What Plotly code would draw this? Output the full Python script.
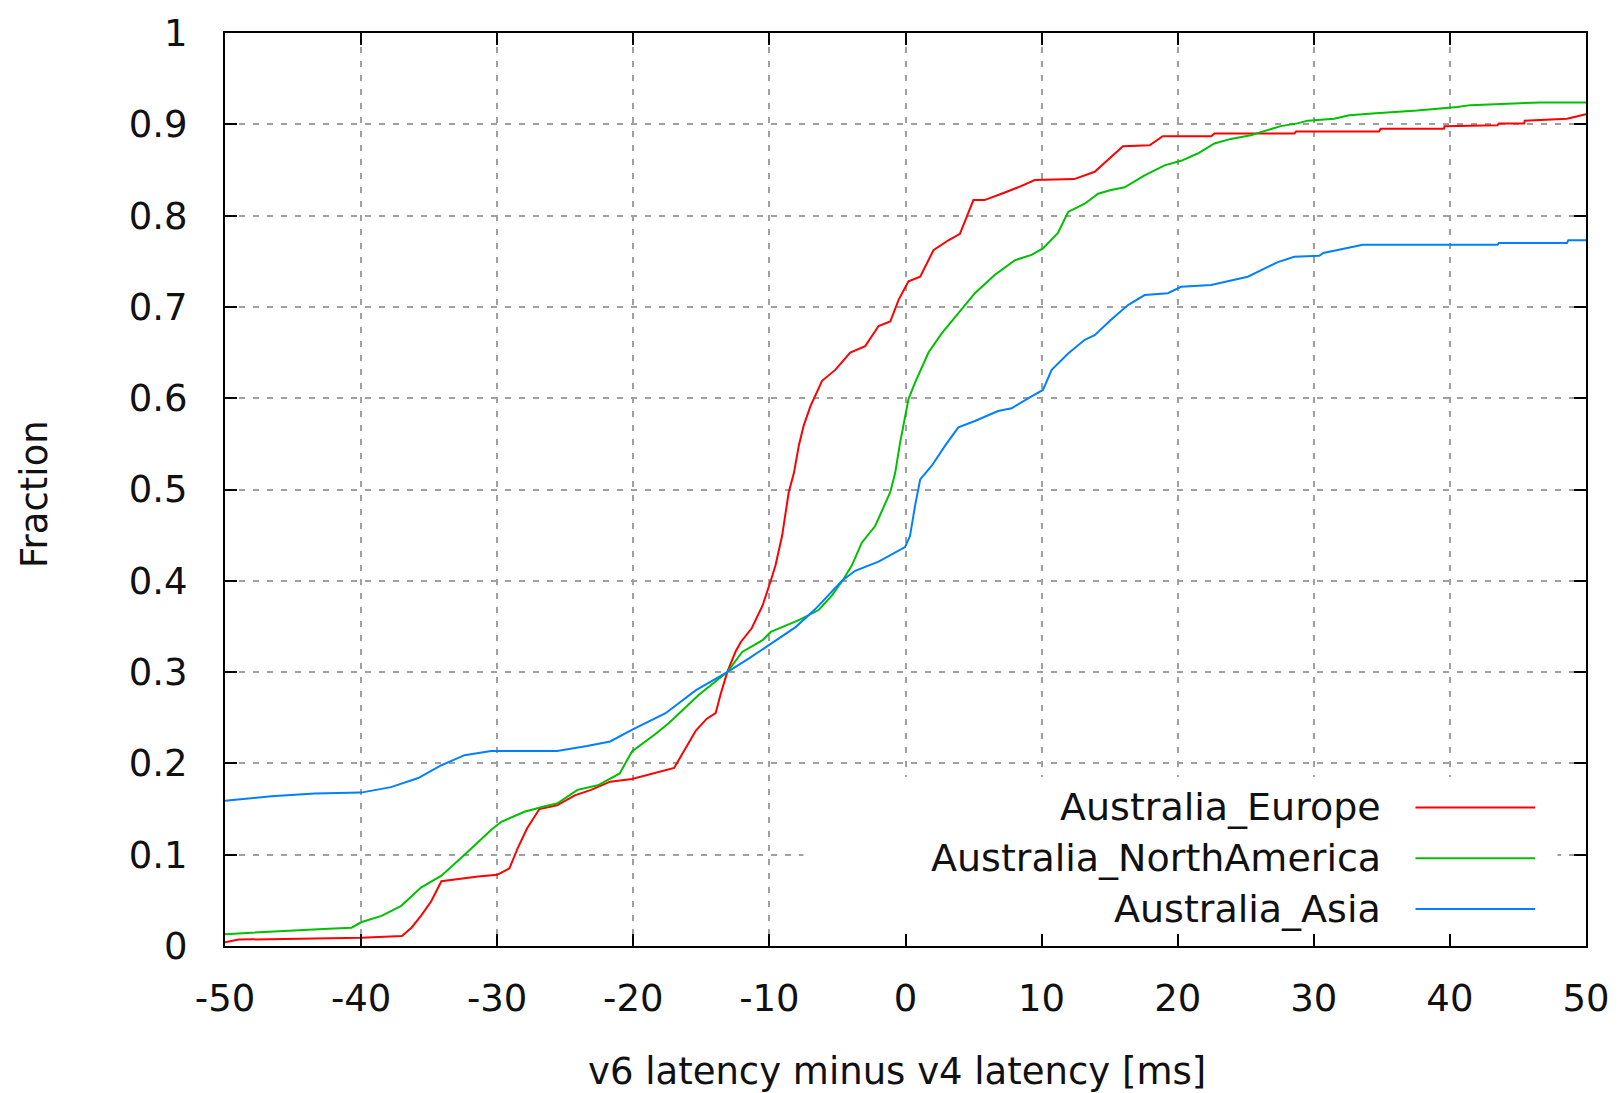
import plotly.graph_objects as go

# CDF of (v6 latency - v4 latency) per region pair
europe_x = [-50, -49, -40, -37, -36.3, -35.6, -34.85, -34.1, -31.4, -30, -29.1, -28.5, -27.8, -26.9,
            -25.6, -24.3, -23.1, -21.7, -20.1, -18.5, -17, -16.3, -15.4, -14.6, -13.95, -13.6, -13.1,
            -12.5, -12.1, -11.3, -10.5, -9.9, -9.55, -9.07, -8.58, -8.2, -7.84, -7.48, -6.99, -6.13,
            -5.16, -4.06, -2.96, -1.98, -1.12, -0.5, 0.22, 1.08, 2.05, 3.15, 4.0, 4.99, 5.8, 7.06,
            8.28, 9.5, 12.4, 13.9, 15.37, 15.98, 17.94, 18.9, 22.46, 22.7, 28.57, 28.7, 34.8, 34.9,
            39.56, 39.6, 43.5, 43.6, 45.45, 45.5, 48.6, 49.35, 50]
europe_y = [0.004, 0.007, 0.009, 0.011, 0.020, 0.033, 0.049, 0.071, 0.076, 0.078, 0.085, 0.107, 0.129,
            0.150, 0.154, 0.165, 0.171, 0.180, 0.183, 0.189, 0.195, 0.213, 0.236, 0.249, 0.255, 0.275,
            0.300, 0.322, 0.333, 0.348, 0.373, 0.400, 0.417, 0.449, 0.497, 0.518, 0.548, 0.570, 0.591,
            0.619, 0.631, 0.650, 0.657, 0.679, 0.684, 0.708, 0.728, 0.733, 0.762, 0.773, 0.780, 0.817,
            0.817, 0.824, 0.831, 0.839, 0.840, 0.848, 0.868, 0.876, 0.877, 0.887, 0.887, 0.890, 0.890,
            0.892, 0.892, 0.895, 0.895, 0.898, 0.899, 0.901, 0.901, 0.904, 0.906, 0.909, 0.911]

namerica_x = [-50, -46.6, -42.4, -40.7, -40, -38.5, -37.05, -35.6, -34.1, -32.4, -30.45, -29.7, -28,
              -26.5, -25.6, -24.1, -22.6, -21, -20.1, -18.4, -17.4, -15.2, -13.1, -12.0, -10.5, -9.9,
              -7.84, -6.38, -5.4, -4.55, -3.94, -3.2, -2.23, -1.12, -0.76, -0.4, -0.03, 0.22, 0.7,
              1.69, 2.66, 3.64, 5.1, 6.55, 8.02, 9.26, 10.1, 11.2, 11.95, 13.17, 14.15, 15.1, 16.1,
              17.57, 19.03, 20.25, 21.47, 22.7, 23.9, 25.37, 26.6, 27.57, 28.8, 29.55, 31.5, 32.6,
              34.56, 37.6, 40.54, 41.5, 46.65, 50]
namerica_y = [0.013, 0.016, 0.019, 0.020, 0.026, 0.033, 0.044, 0.064, 0.077, 0.100, 0.127, 0.136, 0.147,
              0.153, 0.156, 0.171, 0.176, 0.189, 0.213, 0.232, 0.244, 0.275, 0.300, 0.322, 0.335, 0.344,
              0.357, 0.368, 0.384, 0.402, 0.417, 0.442, 0.460, 0.497, 0.518, 0.551, 0.580, 0.599, 0.617,
              0.650, 0.671, 0.689, 0.715, 0.735, 0.751, 0.757, 0.764, 0.781, 0.804, 0.813, 0.824, 0.828,
              0.831, 0.844, 0.855, 0.860, 0.868, 0.879, 0.884, 0.888, 0.894, 0.898, 0.901, 0.904, 0.906,
              0.910, 0.912, 0.915, 0.919, 0.921, 0.924, 0.924]

asia_x = [-50, -46.6, -43.4, -40, -37.8, -35.8, -34.1, -32.4, -30.45, -25.6, -23.4, -21.7, -20.07,
          -17.63, -15.42, -13.1, -11.5, -10.04, -8.1, -6.62, -4.67, -3.7, -1.98, -0.03, 0.33, 0.7,
          1.08, 1.93, 2.91, 3.88, 5.1, 6.8, 7.8, 9.26, 10.1, 10.74, 11.95, 13.17, 13.9, 15.1, 16.35,
          17.57, 19.28, 20.25, 22.46, 23.68, 25.15, 26.1, 27.35, 28.57, 30.4, 30.7, 31.6, 32.6, 33.6,
          43.5, 43.6, 48.6, 48.7, 50]
asia_y = [0.159, 0.164, 0.167, 0.168, 0.174, 0.184, 0.198, 0.209, 0.2135, 0.2135, 0.219, 0.224, 0.237,
          0.255, 0.280, 0.300, 0.315, 0.330, 0.349, 0.369, 0.400, 0.411, 0.421, 0.437, 0.449, 0.482,
          0.511, 0.526, 0.548, 0.568, 0.575, 0.586, 0.589, 0.602, 0.609, 0.631, 0.649, 0.664, 0.669,
          0.686, 0.702, 0.713, 0.715, 0.722, 0.724, 0.728, 0.733, 0.740, 0.749, 0.755, 0.756, 0.759,
          0.762, 0.765, 0.768, 0.768, 0.770, 0.770, 0.773, 0.773]

series_names = ["Australia_Europe", "Australia_NorthAmerica", "Australia_Asia"]
series_colors = ["#ff0000", "#00c000", "#0080ff"]

x_tick_vals = [-50, -40, -30, -20, -10, 0, 10, 20, 30, 40, 50]
x_tick_text = ["-50", "-40", "-30", "-20", "-10", "0", "10", "20", "30", "40", "50"]
y_tick_vals = [0, 0.1, 0.2, 0.3, 0.4, 0.5, 0.6, 0.7, 0.8, 0.9, 1]
y_tick_text = ["0", "0.1", "0.2", "0.3", "0.4", "0.5", "0.6", "0.7", "0.8", "0.9", "1"]

FONT = "DejaVu Sans"
FS = 37
TEXT_COLOR = "#111111"

fig = go.Figure()
for xs, ys, name, color in zip([europe_x, namerica_x, asia_x],
                               [europe_y, namerica_y, asia_y],
                               series_names, series_colors):
    fig.add_trace(go.Scatter(x=xs, y=ys, mode="lines", name=name,
                             line=dict(color=color, width=2), showlegend=False))

axis_common = dict(
    showline=True, linecolor="black", linewidth=2, mirror="ticks",
    ticks="inside", ticklen=12, tickwidth=2, tickcolor="black",
    showgrid=True, gridcolor="#a0a0a0", gridwidth=2, griddash="6px,8px",
    zeroline=False, tickfont=dict(family=FONT, size=FS, color=TEXT_COLOR),
)

fig.update_xaxes(range=[-50, 50], tickvals=x_tick_vals, ticktext=x_tick_text,
                 ticklabelstandoff=19, **axis_common)
fig.update_yaxes(range=[0, 1], tickvals=y_tick_vals, ticktext=y_tick_text,
                 ticklabelstandoff=28, **axis_common)

# opaque key area
shapes = [dict(type="rect", xref="x", yref="y", x0=-7.5, x1=47.9, y0=0, y1=0.185,
               fillcolor="white", line=dict(width=0), layer="between")]
annotations = []
key_rows = [0.1517, 0.0961, 0.0404]
for name, color, yk in zip(series_names, series_colors, key_rows):
    annotations.append(dict(text=name, xref="paper", yref="paper", x=0.851, y=yk,
                            xanchor="right", yanchor="middle", showarrow=False,
                            font=dict(family=FONT, size=38, color=TEXT_COLOR)))
    shapes.append(dict(type="line", xref="paper", yref="paper", x0=0.8747, x1=0.9626,
                       y0=yk, y1=yk, line=dict(color=color, width=2)))

annotations.append(dict(text="v6 latency minus v4 latency [ms]", xref="paper", yref="paper",
                        x=0.4934, y=-0.138, xanchor="center", yanchor="middle", showarrow=False,
                        font=dict(family=FONT, size=FS, color=TEXT_COLOR)))
annotations.append(dict(text="Fraction", xref="paper", yref="paper", textangle=-90,
                        x=-0.14, y=0.4956, xanchor="center", yanchor="middle", showarrow=False,
                        font=dict(family=FONT, size=FS, color=TEXT_COLOR)))

fig.update_layout(
    width=1622, height=1093,
    margin=dict(l=225, r=33, t=28, b=147),
    paper_bgcolor="white", plot_bgcolor="white",
    shapes=shapes, annotations=annotations,
    font=dict(family=FONT, size=FS, color=TEXT_COLOR),
)

fig.write_html("out.html")
